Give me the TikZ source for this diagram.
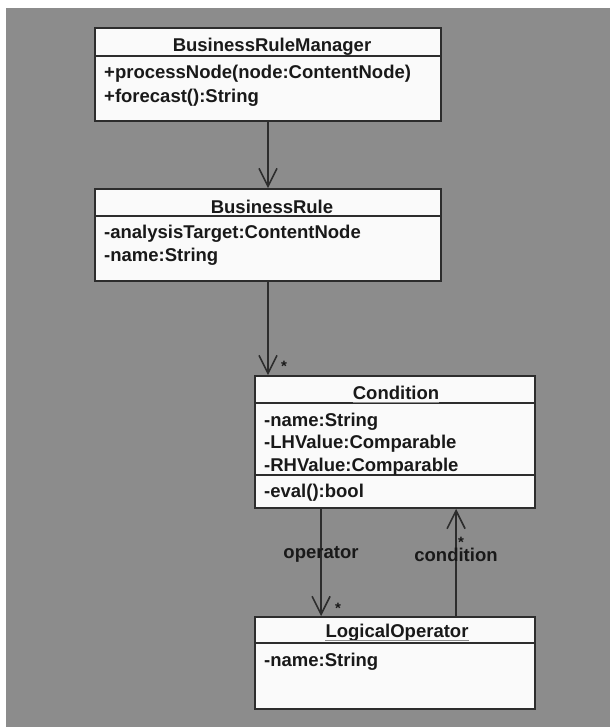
\documentclass[tikz,border=0pt]{standalone}
\usepackage{fontspec}
\setmainfont{Liberation Sans}
\usetikzlibrary{arrows.meta}
\definecolor{bggray}{RGB}{140,140,140}
\definecolor{boxfill}{RGB}{250,250,250}
\definecolor{ink}{RGB}{25,25,25}
\definecolor{edge}{RGB}{45,45,45}
\tikzset{
  umlbox/.style={draw=edge, fill=boxfill, line width=1.8pt, inner sep=0pt},
  divider/.style={draw=edge, line width=1.6pt},
  ttl/.style={font=\fontsize{18.5}{21}\selectfont\bfseries, text=ink, inner sep=0pt, anchor=center},
  row/.style={font=\fontsize{18.5}{21}\selectfont\bfseries, text=ink, inner sep=0pt, anchor=west},
  lbl/.style={font=\fontsize{18.5}{21}\selectfont\bfseries, text=ink, inner sep=0pt},
  mult/.style={font=\fontsize{15}{18}\selectfont\bfseries, text=ink, inner sep=0pt},
  assoc/.style={draw=edge, line width=1.6pt, -{Straight Barb[length=18pt,width=18pt,line width=1.6pt]}},
  ul/.style={draw=edge!55, line width=1pt}
}
\begin{document}
\begin{tikzpicture}[x=1pt,y=-1pt]
\useasboundingbox (0,0) rectangle (610,727);
\fill[white] (0,0) rectangle (610,727);
\fill[bggray] (6,8) rectangle (610,727);
% BusinessRuleManager
\node[umlbox, minimum width=346pt, minimum height=93pt] (brm) at (268,74.5) {};
\draw[divider] (95,56) -- (441,56);
\node[ttl] (brmT) at (272,46.5) {BusinessRuleManager};
\node[row] (brm1) at (104,74) {+processNode(node:ContentNode)};
\node[row] (brm2) at (104,97.5) {+forecast():String};
% BusinessRule
\node[umlbox, minimum width=346pt, minimum height=92pt] (br) at (268,235) {};
\draw[divider] (95,216) -- (441,216);
\node[ttl] (brT) at (272,206.5) {BusinessRule};
\node[row] (br1) at (104,233.5) {-analysisTarget:ContentNode};
\node[row] (br2) at (104,256.5) {-name:String};
% Condition
\node[umlbox, minimum width=280pt, minimum height=132pt] (cond) at (395,442) {};
\draw[divider] (255,403) -- (535,403);
\draw[divider] (255,475) -- (535,475);
\node[ttl] (condT) at (396,393) {Condition};
\draw[ul] ([yshift=-2.5pt]condT.base west) -- ([yshift=-2.5pt]condT.base east);
\node[row] (c1) at (264,421.5) {-name:String};
\node[row] (c2) at (264,443.5) {-LHValue:Comparable};
\node[row] (c3) at (264,466.5) {-RHValue:Comparable};
\node[row] (c4) at (264,493) {-eval():bool};
% LogicalOperator
\node[umlbox, minimum width=280pt, minimum height=92pt] (lo) at (395,663) {};
\draw[divider] (255,643) -- (535,643);
\node[ttl] (loT) at (397,633) {LogicalOperator};
\draw[ul] ([yshift=-2.5pt]loT.base west) -- ([yshift=-2.5pt]loT.base east);
\node[row] (lo1) at (264,661.5) {-name:String};
% connectors
\draw[assoc] (brm.south) -- (br.north);
\draw[assoc] (br.south) -- (cond.north -| br.south);
\node[mult] (m1) at (284,366) {*};
\coordinate (opTop) at ([xshift=67pt]cond.south west);
\coordinate (opBot) at ([xshift=67pt]lo.north west);
\draw[assoc] (opTop) -- (opBot);
\node[lbl] (opL) at (321,554) {operator};
\node[mult] (m2) at (338,608) {*};
\coordinate (cnBot) at ([xshift=202pt]lo.north west);
\coordinate (cnTop) at ([xshift=202pt]cond.south west);
\draw[assoc] (cnBot) -- (cnTop);
\node[lbl] (cnL) at (456,555) {condition};
\node[mult] (m3) at (461,542) {*};
\end{tikzpicture}
\end{document}
